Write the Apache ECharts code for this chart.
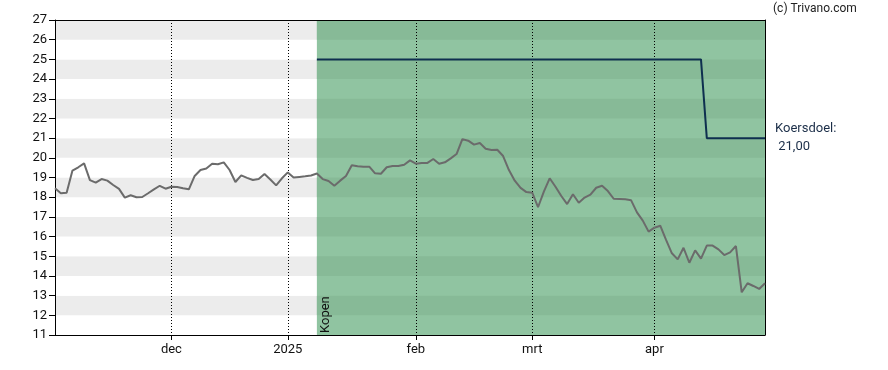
<!DOCTYPE html>
<html><head><meta charset="utf-8">
<script src="https://cdn.jsdelivr.net/npm/echarts@6/dist/echarts.min.js"></script>
<style>html,body{margin:0;padding:0;background:#fff}#c{width:888px;height:370px}</style>
</head><body><div id="c"></div>
<script>
// trading days per month
const novDays=[4,5,6,7,8,11,12,13,14,15,18,19,20,21,22,25,26,27,28,29];
const decDays=[2,3,4,5,6,9,10,11,12,13,16,17,18,19,20,23,24,27,30,31];
const janDays=[2,3,6,7,8,9,10,13,14,15,16,17,20,21,22,23,24,27,28,29,30,31];
const febDays=[3,4,5,6,7,10,11,12,13,14,17,18,19,20,21,24,25,26,27,28];
const marDays=[3,4,5,6,7,10,11,12,13,14,17,18,19,20,21,24,25,26,27,28,31];
const aprDays=[1,2,3,4,7,8,9,10,11,14,15,16,17,22,23,24,25,28,29,30];
const monthKeys=['2024-11','2024-12','2025-01','2025-02','2025-03','2025-04'];
const monthDays=[novDays,decDays,janDays,febDays,marDays,aprDays];

const prices=[
18.45,18.2,18.23,19.35,19.52,19.72,18.87,18.74,18.92,18.84,18.62,18.42,17.98,18.1,18.0,18.01,18.2,18.4,18.58,18.43,18.53,
18.52,18.45,18.4,19.08,19.38,19.46,19.7,19.67,19.77,19.38,18.77,19.11,18.98,18.87,18.92,19.18,18.9,18.6,18.96,19.26,19.0,19.03,19.06,19.1,19.2,
18.92,18.82,18.58,18.84,19.08,19.62,19.57,19.55,19.55,19.21,19.19,19.52,19.58,19.58,19.65,19.87,19.7,
19.74,19.74,19.94,19.7,19.77,19.97,20.19,20.95,20.87,20.67,20.75,20.46,20.4,20.41,20.09,19.38,18.84,18.47,18.26,18.23,
17.49,18.28,18.96,18.53,18.06,17.65,18.15,17.72,17.98,18.13,18.48,18.58,18.31,17.92,17.91,17.89,17.84,17.23,16.81,16.25,16.45,
16.55,15.83,15.15,14.84,15.43,14.67,15.3,14.88,15.54,15.54,15.35,15.06,15.2,15.52,13.17,13.63,13.49,13.34,13.63
];

const tickDates=['2024-12-02','2025-01-02','2025-02-03','2025-03-03','2025-04-01'];
const tickLabels=['dec','2025','feb','mrt','apr'];
const adviceStart='2025-01-09';
const adviceLabel='Kopen';
const targetDates=['2025-01-09','2025-04-14'];
const targetValues=[25,21];
const yMin=11, yMax=27;

const dates=[];
monthKeys.forEach((m,k)=>monthDays[k].forEach(d=>dates.push(m+'-'+String(d).padStart(2,'0'))));
const endDate=dates[dates.length-1];

const targetData=dates.map(d=>{
  let v=null;
  targetDates.forEach((td,j)=>{ if(d>=td) v=targetValues[j]; });
  return v;
});

const tickIdx=new Set(tickDates.map(d=>dates.indexOf(d)));
const isTick=(i)=>tickIdx.has(i);

const lightGreen='#90c4a1', darkGreen='#87ba97';
const areaData=[[{xAxis:adviceStart,yAxis:yMin,itemStyle:{color:lightGreen}},{xAxis:endDate,yAxis:yMax}]];
for(let v=yMin+1; v<yMax; v+=2){
  areaData.push([{xAxis:adviceStart,yAxis:v,itemStyle:{color:darkGreen}},{xAxis:endDate,yAxis:v+1}]);
}

const chart=echarts.init(document.getElementById('c'),null,{renderer:'canvas'});
const font='Roboto';
chart.setOption({
  animation:false,
  backgroundColor:'#fff',
  grid:{left:55,right:123,top:20,bottom:35},
  textStyle:{fontFamily:font},
  xAxis:[{
    type:'category',data:dates,boundaryGap:false,z:3,
    axisLine:{show:true,lineStyle:{color:'#000',width:1}},
    axisTick:{show:true,interval:isTick,length:5,lineStyle:{color:'#000'}},
    axisLabel:{interval:isTick,margin:8,fontSize:13,color:'#111',fontFamily:font,
      formatter:(v)=>{const k=tickDates.indexOf(v);return k>=0?tickLabels[k]:'';}},
    splitLine:{show:true,interval:isTick,lineStyle:{color:'#000',type:[1,2],width:1}}
  },{
    type:'category',data:dates,boundaryGap:false,position:'top',z:3,
    axisLine:{show:true,lineStyle:{color:'#000',width:1}},
    axisTick:{show:false},axisLabel:{show:false},splitLine:{show:false}
  }],
  yAxis:[{
    type:'value',min:yMin,max:yMax,interval:1,z:0,
    axisLine:{show:true,lineStyle:{color:'#000',width:1}},
    axisTick:{show:true,length:6,lineStyle:{color:'#000'}},
    axisLabel:{fontSize:13,color:'#111',margin:8,fontFamily:font},
    splitLine:{show:false},
    splitArea:{show:true,areaStyle:{color:['#ffffff','#ececec']}}
  },{
    type:'value',min:yMin,max:yMax,interval:1,position:'right',z:3,
    axisLine:{show:true,lineStyle:{color:'#000',width:1}},
    axisTick:{show:false},axisLabel:{show:false},splitLine:{show:false}
  }],
  series:[{
    type:'line',z:1,data:[],silent:true,
    markArea:{silent:true,data:areaData,itemStyle:{borderWidth:0}}
  },{
    type:'line',name:'koers',data:prices,z:4,symbol:'none',
    lineStyle:{color:'#6b6b6b',width:2},itemStyle:{color:'#6b6b6b'}
  },{
    type:'line',name:'koersdoel',data:targetData,z:4,symbol:'none',
    lineStyle:{color:'#0e2f4f',width:2},itemStyle:{color:'#0e2f4f'},
    endLabel:{show:true,distance:10,color:'#1b2e48',fontSize:13,lineHeight:18,fontFamily:font,align:'left',
      formatter:(p)=>{const v=Array.isArray(p.value)?p.value[1]:p.value;return 'Koersdoel:\n '+Number(v).toFixed(2).replace('.',',');}}
  }],
  graphic:[{
    type:'text',x:773,y:9,z:10,
    style:{text:'(c) Trivano.com',fontSize:12,fill:'#222',fontFamily:font,textVerticalAlign:'middle'}
  },{
    type:'text',x:332,y:333,rotation:Math.PI/2,z:10,
    style:{text:adviceLabel,fontSize:13,fill:'#111',fontFamily:font,textAlign:'left',textVerticalAlign:'bottom'}
  }]
});
</script></body></html>
